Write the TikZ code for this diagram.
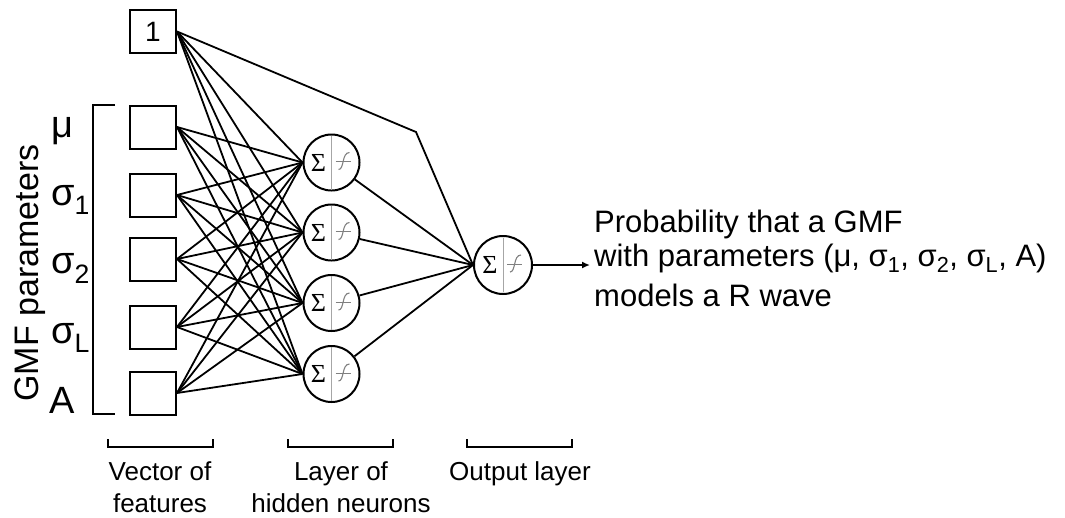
\documentclass[tikz,border=0pt]{standalone}
\usepackage{fontspec}
\setmainfont{Liberation Sans}
\newfontfamily\serifgr{Liberation Serif}
\usetikzlibrary{arrows.meta}

\tikzset{
  inbox/.style={draw, line width=2pt, minimum width=46pt, minimum height=43pt, inner sep=0pt, font=\fontsize{28}{30}\selectfont},
  neuron/.style={draw, circle, line width=2pt, minimum size=56pt, inner sep=0pt},
  conn/.style={line width=1.8pt},
  lbl/.style={font=\fontsize{38}{40}\selectfont, anchor=base west, inner sep=0pt},
  captxt/.style={font=\fontsize{26}{32}\selectfont, align=center, inner sep=0pt, anchor=north},
  outtxt/.style={font=\fontsize{31}{36}\selectfont, anchor=base west, inner sep=0pt},
  brk/.style={line width=2pt},
  pics/act/.style={code={
    \draw[gray!70, line width=1pt] (0,-27) -- (0,27);
    \node[inner sep=0pt, font=\serifgr\fontsize{26}{26}\selectfont] at (-13,0) {Σ};
    \draw[gray, line width=0.8pt] (4,-1) -- (19,-1);
    \draw[gray, line width=1.1pt] (7,7) .. controls (13,7) and (10,-10) .. (18,-10);
  }}
}

\begin{document}
\begin{tikzpicture}[x=1pt,y=-1pt]
\useasboundingbox (0,0) rectangle (1065,517);

% input boxes
\node[inbox] (one) at (153,31.5) {1};
\node[inbox] (in1) at (153,127) {};
\node[inbox] (in2) at (153,195) {};
\node[inbox] (in3) at (153,259) {};
\node[inbox] (in4) at (153,327) {};
\node[inbox] (in5) at (153,393) {};

% labels
\node[lbl] (lmu) at (51,137) {μ};
\node[lbl] (ls1) at (51,205) {σ\textsubscript{1}};
\node[lbl] (ls2) at (51,273) {σ\textsubscript{2}};
\node[lbl] (lsL) at (51,343) {σ\textsubscript{L}};
\node[lbl] (lA) at (49,413) {A};
\node[font=\fontsize{34}{40}\selectfont, rotate=90, anchor=base, inner sep=0pt] (gmf) at (38,273) {GMF parameters};

% bracket
\draw[brk] (115,105) -- (93,105) -- (93,414) -- (115,414);

% hidden neurons
\node[neuron] (h1) at (331.5,162.5) {};
\node[neuron] (h2) at (331.5,232.5) {};
\node[neuron] (h3) at (331.5,303) {};
\node[neuron] (h4) at (331.5,374) {};
\foreach \i in {1,...,4} { \pic at (h\i) {act}; }

% output neuron
\node[neuron, minimum size=58pt] (out) at (503,265) {};
\pic at (out) {act};

% connections
\foreach \i in {one,in1,in2,in3,in4,in5} {
  \foreach \j in {1,...,4} {
    \draw[conn] (\i.east) -- (h\j.west);
  }
}
\coordinate (bend) at (416,132);
\draw[conn] (one.east) -- (bend) -- (out.west);
\foreach \j in {1,...,4} { \draw[conn] (h\j) -- (out.west); }

\coordinate (arrend) at (590,265);
\draw[conn, -{Latex[length=8pt,width=7pt]}] (out.east) -- (arrend);

% output text
\node[outtxt] (t1) at (594,232) {Probability that a GMF};
\node[outtxt] (t2) at (594,266) {with parameters (μ, σ\textsubscript{1}, σ\textsubscript{2}, σ\textsubscript{L}, A)};
\node[outtxt] (t3) at (594,306) {models a R wave};

% bottom brackets and captions
\draw[brk] (108,439) -- (108,447) -- (213,447) -- (213,439);
\draw[brk] (288,439) -- (288,447) -- (393,447) -- (393,439);
\draw[brk] (467,439) -- (467,447) -- (572,447) -- (572,439);
\node[captxt] (c1) at (160,461) {Vector of\\features};
\node[captxt] (c2) at (341,461) {Layer of\\hidden neurons};
\node[captxt] (c3) at (520,461) {Output layer};
\end{tikzpicture}
\end{document}
